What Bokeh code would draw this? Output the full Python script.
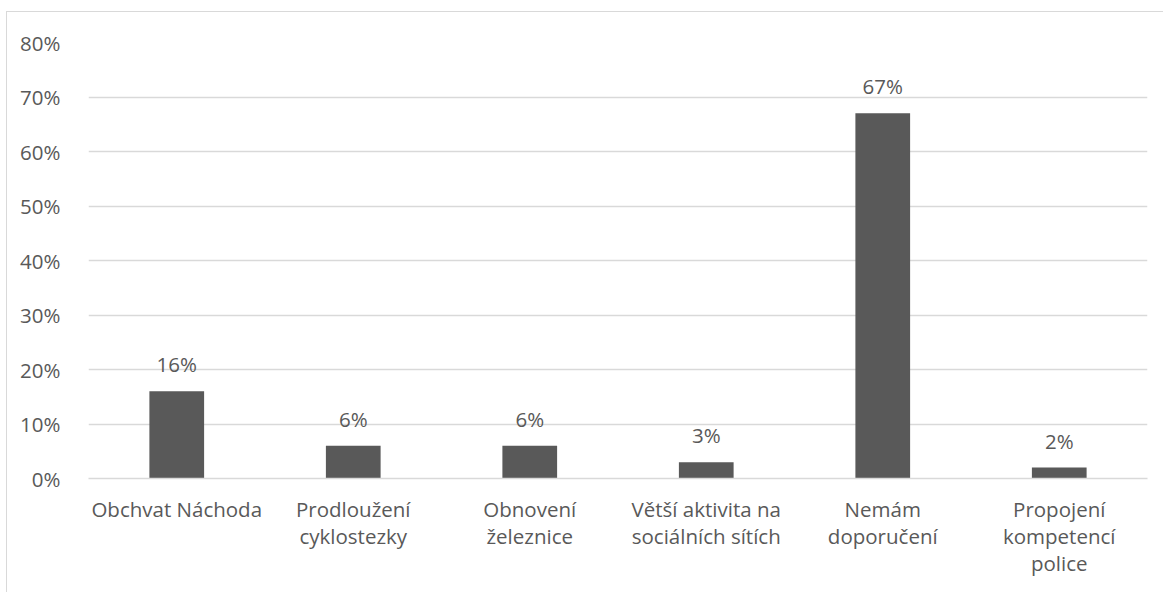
from bokeh.plotting import figure
from bokeh.models import ColumnDataSource, LabelSet, NumeralTickFormatter, FixedTicker
from bokeh.core.properties import value
from bokeh.embed import file_html
from bokeh.resources import INLINE

categories = ["Obchvat Náchoda", "Prodloužení\ncyklostezky", "Obnovení\nželeznice",
              "Větší aktivita na\nsociálních sítích", "Nemám\ndoporučení",
              "Propojení\nkompetencí\npolice"]
values = [0.16, 0.06, 0.06, 0.03, 0.67, 0.02]
value_labels = ["16%", "6%", "6%", "3%", "67%", "2%"]
y_ticks = [0, 0.1, 0.2, 0.3, 0.4, 0.5, 0.6, 0.7, 0.8]

FONT = "Open Sans"
FS = "20.5px"
TXT = "#595959"

src = ColumnDataSource(dict(cat=categories, val=values, lab=value_labels))

p = figure(x_range=categories, y_range=(0, 0.8), width=1156, height=580,
           output_backend="svg", toolbar_location=None,
           min_border_left=81, min_border_right=16, min_border_top=30, min_border_bottom=114)
p.styles = {"outline": "1.5px solid #d9d9d9", "margin-left": "7px", "margin-top": "12px"}
p.outline_line_color = None
p.background_fill_color = "white"

p.vbar(x="cat", top="val", width=0.31, source=src, color="#595959", line_color=None)

p.add_layout(LabelSet(x="cat", y="val", text="lab", source=src, y_offset=19,
                      text_align="center", text_baseline="alphabetic",
                      text_font=value(FONT), text_font_size=FS, text_color=TXT))

p.yaxis.ticker = FixedTicker(ticks=y_ticks)
p.yaxis.formatter = NumeralTickFormatter(format="0%")
p.yaxis.axis_line_color = None
p.yaxis.major_tick_line_color = None
p.yaxis.minor_tick_line_color = None
p.yaxis.major_label_text_font = FONT
p.yaxis.major_label_text_font_size = FS
p.yaxis.major_label_text_color = TXT
p.yaxis.major_label_standoff = 22

p.xaxis.axis_line_color = "#d9d9d9"
p.xaxis.axis_line_width = 1.5
p.xaxis.major_tick_line_color = None
p.xaxis.minor_tick_line_color = None
p.xaxis.major_label_text_font = FONT
p.xaxis.major_label_text_font_size = FS
p.xaxis.major_label_text_color = TXT
p.xaxis.major_label_standoff = 10
p.xaxis.major_label_text_line_height = 0.98

p.xgrid.grid_line_color = None
p.ygrid.grid_line_color = "#d9d9d9"
p.ygrid.grid_line_width = 1.5
p.x_range.range_padding = 0

open("out.html", "w").write(file_html(p, INLINE))
